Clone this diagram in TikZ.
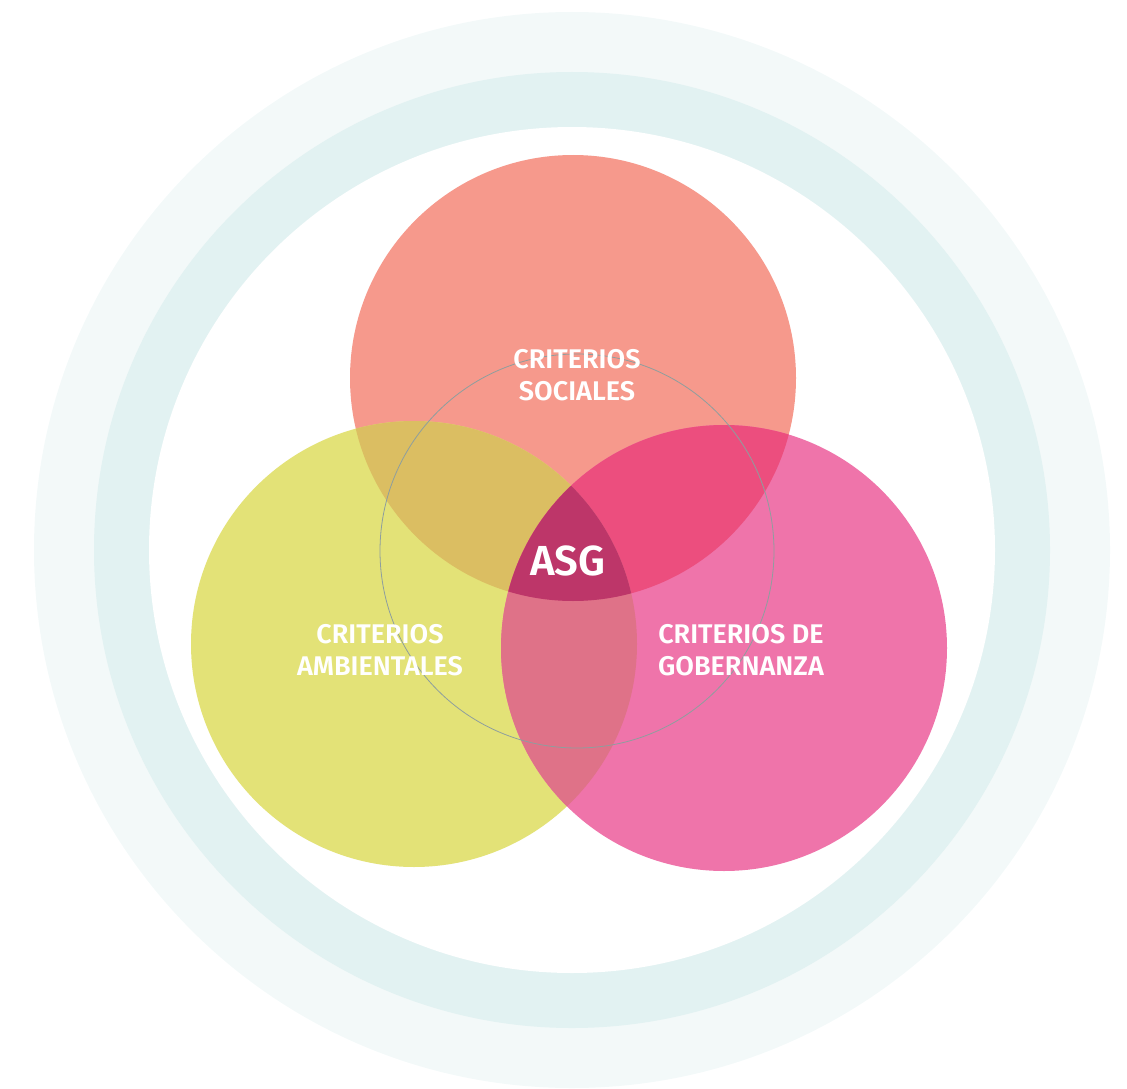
\documentclass[tikz,border=0pt]{standalone}
\usepackage{fontspec}
\setmainfont{Fira Sans}[BoldFont={Fira Sans SemiBold}]
\definecolor{ringout}{HTML}{F3F9F9}
\definecolor{ringmid}{HTML}{E2F2F2}
\definecolor{cS}{HTML}{F6998C}
\definecolor{cA}{HTML}{E3E277}
\definecolor{cG}{HTML}{EF74AA}
\definecolor{cSA}{HTML}{DBBE62}
\definecolor{cSG}{HTML}{EC4E7E}
\definecolor{cAG}{HTML}{DF7288}
\definecolor{cASG}{HTML}{BD3669}
\definecolor{thingray}{HTML}{8E9E9E}
\tikzset{
  lbl/.style={text=white, font=\bfseries\fontsize{27}{32}\selectfont, align=center, inner sep=0pt},
}
\begin{document}
\begin{tikzpicture}[x=1pt,y=-1pt]
\useasboundingbox (0,0) rectangle (1127,1089);
\coordinate (O) at (572,550);
\coordinate (S) at (573,378);
\coordinate (A) at (414,644);
\coordinate (G) at (724,648);
\coordinate (T) at (577,551);
% rings
\fill[ringout] (O) circle (538);
\fill[ringmid] (O) circle (478);
\fill[white] (O) circle (423);
% circles
\fill[cS] (S) circle (223);
\fill[cA] (A) circle (223);
\fill[cG] (G) circle (223);
% pairwise overlaps
\begin{scope}\clip (S) circle (223); \fill[cSA] (A) circle (223); \end{scope}
\begin{scope}\clip (S) circle (223); \fill[cSG] (G) circle (223); \end{scope}
\begin{scope}\clip (A) circle (223); \fill[cAG] (G) circle (223); \end{scope}
\begin{scope}\clip (S) circle (223); \clip (A) circle (223); \fill[cASG] (G) circle (223); \end{scope}
% thin circle
\draw[draw=thingray, line width=0.8pt] (T) circle (197);
% labels
\node[lbl] (ls) at (577,375) {CRITERIOS\\SOCIALES};
\node[lbl] (la) at (380,650) {CRITERIOS\\AMBIENTALES};
\node[lbl] (lg) at (741,650) {CRITERIOS DE\\GOBERNANZA};
\node[lbl, font=\bfseries\fontsize{42}{44}\selectfont] (asg) at (568,561) {ASG};
\end{tikzpicture}
\end{document}
